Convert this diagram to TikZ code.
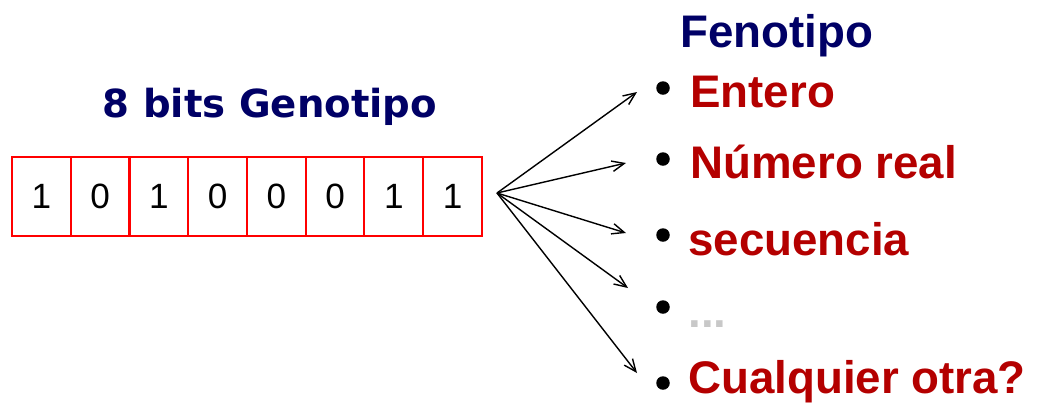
\documentclass[tikz,border=0pt]{standalone}
\usepackage{fontspec}
\usepackage{xcolor}
\usetikzlibrary{positioning,arrows.meta}
\setmainfont{Liberation Sans}
\newfontfamily\headfont{DejaVu Sans}

\definecolor{navy}{RGB}{0,0,102}
\definecolor{darkred}{RGB}{180,0,0}
\definecolor{lightdots}{RGB}{200,200,200}

\begin{document}
\begin{tikzpicture}[x=0.02cm, y=-0.02cm,
    bit/.style = {draw=red, line width=1.2pt, minimum width=1.175cm, minimum height=1.58cm,
                  inner sep=0pt, outer sep=0pt, font=\fontsize{20pt}{20pt}\selectfont},
    dot/.style = {circle, fill=black, minimum size=0.27cm, inner sep=0pt},
    item/.style = {anchor=base west, inner sep=0pt, text=darkred,
                   font=\fontsize{26pt}{30pt}\selectfont\bfseries},
    arrow/.style = {-{Straight Barb[length=7pt,width=6pt]}, line width=0.8pt}]
    \useasboundingbox (0,0) rectangle (1042,414);

    % genotype: the 8 bits
    \node[anchor=base, text=navy, font=\headfont\fontsize{22pt}{26pt}\selectfont\bfseries]
        (geno) at (270,117) {8 bits Genotipo};
    \node[bit, anchor=north west] (b1) at (12,157) {1};
    \node[bit, right=0pt of b1] (b2) {0};
    \node[bit, right=0pt of b2] (b3) {1};
    \node[bit, right=0pt of b3] (b4) {0};
    \node[bit, right=0pt of b4] (b5) {0};
    \node[bit, right=0pt of b5] (b6) {0};
    \node[bit, right=0pt of b6] (b7) {1};
    \node[bit, right=0pt of b7] (b8) {1};

    % phenotype list
    \node[item, text=navy] (feno) at (680,47) {Fenotipo};
    \node[dot] (d1) at (663,88) {};
    \node[dot] (d2) at (663,159) {};
    \node[dot] (d3) at (663,235) {};
    \node[dot] (d4) at (663,307) {};
    \node[dot] (d5) at (663,383) {};
    \node[item] (p1) at (690,107) {Entero};
    \node[item] (p2) at (690,178) {Número real};
    \node[item] (p3) at (688,255) {secuencia};
    \node[item, text=lightdots] (p4) at (688,327) {...};
    \node[item] (p5) at (688,393) {Cualquier otra?};

    % fan of arrows
    \coordinate (src) at (497,193);
    \coordinate (t1) at (637,92);
    \coordinate (t2) at (626,163);
    \coordinate (t3) at (626,233);
    \coordinate (t4) at (628,288);
    \coordinate (t5) at (637,373);
    \draw[arrow] (src) -- (t1);
    \draw[arrow] (src) -- (t2);
    \draw[arrow] (src) -- (t3);
    \draw[arrow] (src) -- (t4);
    \draw[arrow] (src) -- (t5);
\end{tikzpicture}
\end{document}
